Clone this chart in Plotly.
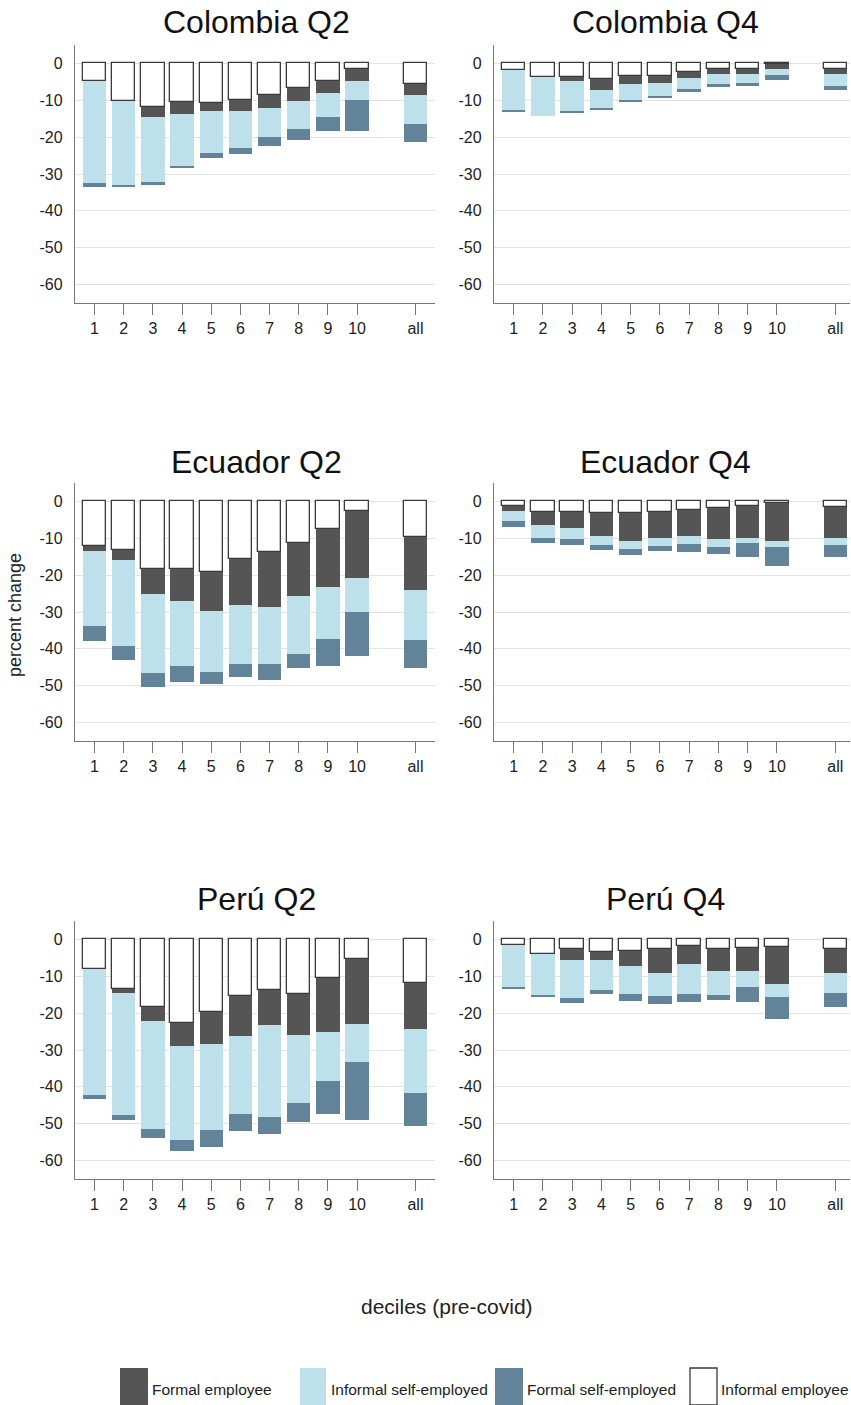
import plotly.graph_objects as go

# ---------------- data ----------------
decile_labels = ["1", "2", "3", "4", "5", "6", "7", "8", "9", "10", "all"]
series_names = ["Informal employee", "Formal employee", "Informal self-employed", "Formal self-employed"]

# Colombia Q2 (percentage-point contributions, shown as negative)
col_q2_inf_emp = [4.7, 10.2, 11.7, 10.5, 10.6, 9.8, 8.7, 6.8, 4.7, 1.6, 5.5]
col_q2_for_emp = [0.0, 0.0, 2.8, 3.2, 2.2, 3.2, 3.5, 3.5, 3.3, 3.2, 3.0]
col_q2_inf_se = [27.8, 22.9, 17.6, 14.1, 11.6, 10.0, 7.8, 7.4, 6.4, 5.2, 8.0]
col_q2_for_se = [1.1, 0.4, 0.8, 0.7, 1.2, 1.7, 2.5, 3.0, 3.8, 8.2, 4.8]

# Colombia Q4
col_q4_inf_emp = [1.7, 3.6, 3.8, 4.1, 3.4, 3.4, 2.3, 1.5, 1.4, 0.2, 1.5]
col_q4_for_emp = [0.0, 0.0, 1.0, 3.0, 2.3, 1.8, 1.6, 1.4, 1.4, 1.2, 1.4]
col_q4_inf_se = [11.1, 10.7, 8.2, 5.2, 4.3, 3.8, 3.0, 2.7, 2.6, 1.7, 3.1]
col_q4_for_se = [0.2, 0.0, 0.3, 0.3, 0.5, 0.3, 0.8, 0.9, 0.6, 1.5, 1.1]

# Ecuador Q2
ecu_q2_inf_emp = [12.1, 13.3, 18.4, 18.4, 19.2, 15.7, 13.7, 11.4, 7.4, 2.5, 9.6]
ecu_q2_for_emp = [1.3, 2.6, 6.8, 8.5, 10.4, 12.5, 15.0, 14.3, 15.9, 18.4, 14.3]
ecu_q2_inf_se = [20.4, 23.3, 21.3, 17.8, 16.6, 15.8, 15.5, 15.6, 13.9, 9.2, 13.8]
ecu_q2_for_se = [4.2, 3.9, 3.8, 4.3, 3.4, 3.6, 4.3, 4.0, 7.4, 11.8, 7.4]

# Ecuador Q4
ecu_q4_inf_emp = [1.3, 2.8, 2.8, 3.1, 3.1, 2.9, 2.3, 1.8, 1.2, 0.4, 1.6]
ecu_q4_for_emp = [1.3, 3.7, 4.4, 6.2, 7.6, 7.1, 7.2, 8.5, 8.8, 10.2, 8.2]
ecu_q4_inf_se = [2.6, 3.3, 2.9, 2.4, 2.3, 2.0, 2.0, 2.0, 1.4, 1.7, 2.0]
ecu_q4_for_se = [1.7, 1.5, 1.6, 1.5, 1.5, 1.5, 2.3, 2.0, 3.6, 5.1, 3.2]

# Perú Q2
per_q2_inf_emp = [7.9, 13.4, 18.4, 22.6, 19.8, 15.4, 13.6, 14.8, 10.4, 5.4, 11.8]
per_q2_for_emp = [0.0, 1.0, 3.8, 6.3, 8.5, 10.9, 9.6, 11.2, 14.8, 17.6, 12.5]
per_q2_inf_se = [34.2, 33.2, 29.3, 25.5, 23.5, 21.0, 24.9, 18.3, 13.3, 10.3, 17.4]
per_q2_for_se = [1.1, 1.4, 2.5, 3.0, 4.4, 4.6, 4.7, 5.3, 8.8, 15.6, 8.8]

# Perú Q4
per_q4_inf_emp = [1.6, 3.9, 2.6, 3.4, 3.1, 2.5, 1.7, 2.5, 2.4, 2.0, 2.5]
per_q4_for_emp = [0.0, 0.0, 3.0, 2.3, 4.0, 6.7, 5.0, 6.2, 6.1, 10.0, 6.5]
per_q4_inf_se = [11.4, 11.2, 10.3, 7.9, 7.6, 6.2, 8.0, 6.3, 4.3, 3.5, 5.6]
per_q4_for_se = [0.4, 0.3, 1.4, 1.1, 1.9, 2.1, 2.2, 1.5, 4.1, 6.0, 3.6]

panel_titles = ["Colombia Q2", "Colombia Q4", "Ecuador Q2", "Ecuador Q4", "Perú Q2", "Perú Q4"]
y_ticks = [0, -10, -20, -30, -40, -50, -60]

# ---------------- styling ----------------
W, H = 851, 1405
FONT = "Liberation Sans, Arial, sans-serif"
colors = {
    "Informal employee": "#ffffff",
    "Formal employee": "#555555",
    "Informal self-employed": "#bde0ea",
    "Formal self-employed": "#628399",
}
line_colors = {
    "Informal employee": "#3a3a3a",
    "Formal employee": "#555555",
    "Informal self-employed": "#bde0ea",
    "Formal self-employed": "#628399",
}
line_widths = {
    "Informal employee": 1.3,
    "Formal employee": 0,
    "Informal self-employed": 0,
    "Formal self-employed": 0,
}

panels = [
    (col_q2_inf_emp, col_q2_for_emp, col_q2_inf_se, col_q2_for_se),
    (col_q4_inf_emp, col_q4_for_emp, col_q4_inf_se, col_q4_for_se),
    (ecu_q2_inf_emp, ecu_q2_for_emp, ecu_q2_inf_se, ecu_q2_for_se),
    (ecu_q4_inf_emp, ecu_q4_for_emp, ecu_q4_inf_se, ecu_q4_for_se),
    (per_q2_inf_emp, per_q2_for_emp, per_q2_inf_se, per_q2_for_se),
    (per_q4_inf_emp, per_q4_for_emp, per_q4_inf_se, per_q4_for_se),
]

# x positions: deciles 1..10, then a gap, then "all"
x_pos = list(range(1, 11)) + [12]

# pixel layout -> paper
def px(x):
    return x / W

def py(y):
    return 1 - y / H

col_x = [(75, 435), (494, 850)]
col_xrange = [[0.33, 12.67], [0.33, 12.5]]
row_y = [(45, 303), (483, 741), (921, 1179)]
title_x = [256, 665]
title_y = [22, 462, 899]

fig = go.Figure()
layout = dict(
    width=W, height=H,
    margin=dict(l=0, r=0, t=0, b=0),
    paper_bgcolor="white", plot_bgcolor="white",
    barmode="relative", bargap=0,
    showlegend=False,
    font=dict(family=FONT, color="#222222"),
)
annotations = []
shapes = []

for i, vals in enumerate(panels):
    r, c = divmod(i, 2)
    n = i + 1
    xa = "x" if n == 1 else f"x{n}"
    ya = "y" if n == 1 else f"y{n}"
    for name, v in zip(series_names, vals):
        fig.add_trace(go.Bar(
            x=x_pos, y=[-a for a in v], name=name,
            width=0.8,
            marker=dict(color=colors[name],
                        line=dict(color=line_colors[name], width=line_widths[name])),
            xaxis=xa, yaxis=ya,
        ))
    layout["xaxis" if n == 1 else f"xaxis{n}"] = dict(
        domain=[px(col_x[c][0]), px(col_x[c][1])],
        range=col_xrange[c],
        anchor=ya,
        tickmode="array", tickvals=x_pos, ticktext=decile_labels,
        ticks="outside", ticklen=11, tickwidth=1.3, tickcolor="#777777",
        showline=True, linecolor="#777777", linewidth=1.3,
        showgrid=False, zeroline=False,
        tickfont=dict(size=16, family=FONT, color="#222222"),
    )
    layout["yaxis" if n == 1 else f"yaxis{n}"] = dict(
        domain=[py(row_y[r][1]), py(row_y[r][0])],
        range=[-65, 5],
        anchor=xa,
        tickmode="array", tickvals=y_ticks, ticktext=[str(t) for t in y_ticks],
        ticks="", ticklabelstandoff=8,
        showline=True, linecolor="#777777", linewidth=1.3,
        showgrid=True, gridcolor="#e4e4e4", gridwidth=1,
        zeroline=False,
        tickfont=dict(size=16, family=FONT, color="#222222"),
    )
    annotations.append(dict(
        text=panel_titles[i], x=px(title_x[c]), y=py(title_y[r]),
        xref="paper", yref="paper", xanchor="center", yanchor="middle",
        showarrow=False, font=dict(size=32, family=FONT, color="#111111"),
    ))

# axis titles
annotations.append(dict(
    text="percent change", x=px(15), y=py(615), xref="paper", yref="paper",
    xanchor="center", yanchor="middle", textangle=-90, showarrow=False,
    font=dict(size=18, family=FONT, color="#222222"),
))
annotations.append(dict(
    text="deciles (pre-covid)", x=px(447), y=py(1306), xref="paper", yref="paper",
    xanchor="center", yanchor="middle", showarrow=False,
    font=dict(size=21, family=FONT, color="#222222"),
))

# legend (drawn as key boxes + labels)
legend_items = [
    ("Formal employee", 120, 148, 150),
    ("Informal self-employed", 300, 326, 329),
    ("Formal self-employed", 495, 523, 525),
    ("Informal employee", 690, 717, 719),
]
for name, x0, x1, tx in legend_items:
    shapes.append(dict(
        type="rect", xref="paper", yref="paper",
        x0=px(x0), x1=px(x1), y0=py(1405), y1=py(1368),
        fillcolor=colors[name],
        line=dict(color=line_colors[name] if name == "Informal employee" else colors[name],
                  width=1.3 if name == "Informal employee" else 0),
    ))
    annotations.append(dict(
        text=name, x=px(tx), y=py(1389), xref="paper", yref="paper",
        xanchor="left", yanchor="middle", showarrow=False,
        font=dict(size=15.5, family=FONT, color="#222222"),
    ))

layout["annotations"] = annotations
layout["shapes"] = shapes
fig.update_layout(**layout)
fig.write_html(
    "out.html",
    config={"displayModeBar": False},
    post_script="document.body.style.margin='0';document.body.style.overflow='hidden';",
)
